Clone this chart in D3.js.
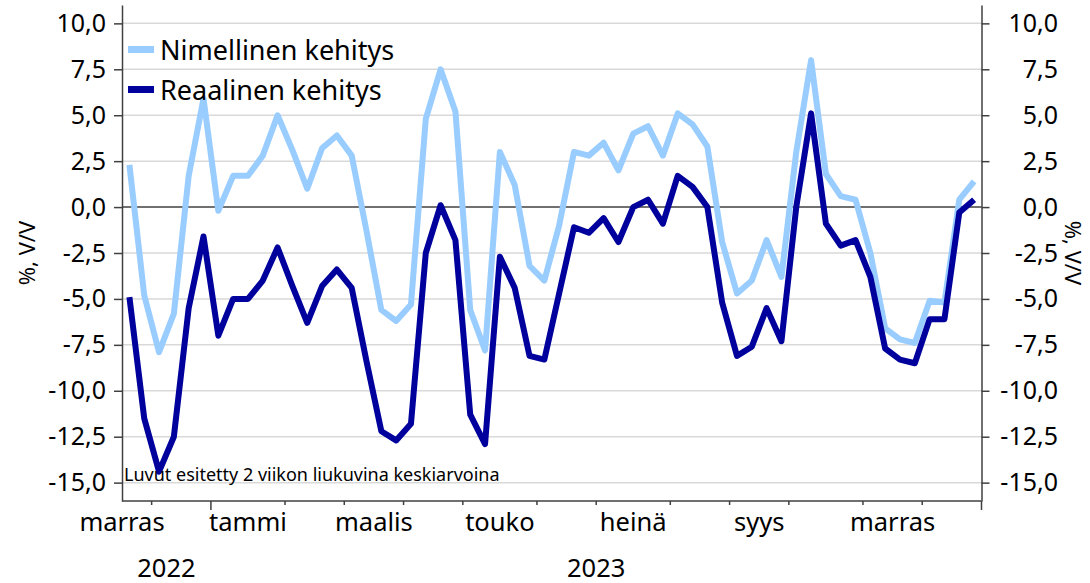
<!DOCTYPE html>
<html>
<head>
<meta charset="utf-8">
<script src="https://cdn.jsdelivr.net/npm/d3@7"></script>
<style>
  body { margin: 0; background: #fff; }
  svg text { font-family: "Noto Sans", sans-serif; fill: #000; }
</style>
</head>
<body>
<div id="chart"></div>
<script>
// weekly categories (Monday of each week)
const weeks = [
  "2022-11-21", "2022-11-28", "2022-12-05", "2022-12-12", "2022-12-19", "2022-12-26",
  "2023-01-02", "2023-01-09", "2023-01-16", "2023-01-23", "2023-01-30",
  "2023-02-06", "2023-02-13", "2023-02-20", "2023-02-27",
  "2023-03-06", "2023-03-13", "2023-03-20", "2023-03-27",
  "2023-04-03", "2023-04-10", "2023-04-17", "2023-04-24",
  "2023-05-01", "2023-05-08", "2023-05-15", "2023-05-22", "2023-05-29",
  "2023-06-05", "2023-06-12", "2023-06-19", "2023-06-26",
  "2023-07-03", "2023-07-10", "2023-07-17", "2023-07-24", "2023-07-31",
  "2023-08-07", "2023-08-14", "2023-08-21", "2023-08-28",
  "2023-09-04", "2023-09-11", "2023-09-18", "2023-09-25",
  "2023-10-02", "2023-10-09", "2023-10-16", "2023-10-23", "2023-10-30",
  "2023-11-06", "2023-11-13", "2023-11-20", "2023-11-27",
  "2023-12-04", "2023-12-11", "2023-12-18", "2023-12-25"
];

const nimellinen = [
  2.3, -4.8, -7.9, -5.8, 1.7, 5.9, -0.2, 1.7, 1.7, 2.8,
  5.0, 3.1, 1.0, 3.2, 3.9, 2.8, -1.3, -5.6, -6.2, -5.3,
  4.8, 7.5, 5.2, -5.6, -7.8, 3.0, 1.2, -3.2, -4.0, -1.0,
  3.0, 2.8, 3.5, 2.0, 4.0, 4.4, 2.8, 5.1, 4.5, 3.3,
  -1.9, -4.7, -4.0, -1.8, -3.8, 3.0, 8.0, 1.8, 0.6, 0.4,
  -2.5, -6.6, -7.2, -7.4, -5.1, -5.2, 0.4, 1.4
];

const reaalinen = [
  -4.9, -11.5, -14.4, -12.5, -5.5, -1.6, -7.0, -5.0, -5.0, -4.0,
  -2.2, -4.3, -6.3, -4.3, -3.4, -4.4, -8.4, -12.2, -12.7, -11.8,
  -2.5, 0.1, -1.8, -11.3, -12.9, -2.7, -4.4, -8.1, -8.3, -4.7,
  -1.1, -1.4, -0.6, -1.9, 0.0, 0.4, -0.9, 1.7, 1.1, 0.0,
  -5.2, -8.1, -7.6, -5.5, -7.3, 0.0, 5.1, -0.9, -2.1, -1.8,
  -3.8, -7.7, -8.3, -8.5, -6.1, -6.1, -0.3, 0.4
];

const yTicks = [-15, -12.5, -10, -7.5, -5, -2.5, 0, 2.5, 5, 7.5, 10];
const labelMonths = ["2022-11", "2023-01", "2023-03", "2023-05", "2023-07", "2023-09", "2023-11"];
const monthLabels = ["marras", "tammi", "maalis", "touko", "heinä", "syys", "marras"];
const years = ["2022", "2023"];
const seriesNames = ["Nimellinen kehitys", "Reaalinen kehitys"];
const colors = ["#99ccff", "#00009c"];

const W = 1090, H = 583;
const plot = {left: 122, right: 981.5, top: 5, bottom: 501};

const svg = d3.select("#chart").append("svg")
  .attr("width", W)
  .attr("height", H);

const fi = d3.formatLocale({decimal: ",", thousands: " ", grouping: [3], currency: ["", ""], minus: "-"});
const fmt = fi.format(".1f");

const x = d3.scaleBand().domain(weeks).range([plot.left, plot.right]).padding(0);
const bw = x.bandwidth();
const y = d3.scaleLinear().domain([-16, 11]).range([plot.bottom, plot.top]);

// gridlines
svg.append("g")
  .selectAll("line")
  .data(yTicks.filter(d => d !== 0))
  .join("line")
    .attr("x1", plot.left).attr("x2", plot.right)
    .attr("y1", d => y(d)).attr("y2", d => y(d))
    .attr("stroke", "#d9d9d9")
    .attr("stroke-width", 1.5);

// y axes
const yAxisL = d3.axisLeft(y).tickValues(yTicks).tickFormat(fmt).tickSize(8).tickPadding(8).tickSizeOuter(0);
const yAxisR = d3.axisRight(y).tickValues(yTicks).tickFormat(fmt).tickSize(8).tickPadding(8).tickSizeOuter(0);

const gL = svg.append("g").attr("transform", `translate(${plot.left},0)`).call(yAxisL);
const gR = svg.append("g").attr("transform", `translate(${plot.right},0)`).call(yAxisR);
[gL, gR].forEach(g => {
  g.select(".domain").attr("stroke", "#404040").attr("stroke-width", 1.5);
  g.selectAll(".tick line").attr("stroke", "#404040").attr("stroke-width", 1.5);
  g.selectAll(".tick text").attr("font-size", 25).attr("fill", "#000");
});
gR.selectAll(".tick text").attr("text-anchor", "end").attr("x", 1058 - plot.right);

// zero line
svg.append("line")
  .attr("x1", plot.left).attr("x2", plot.right)
  .attr("y1", y(0)).attr("y2", y(0))
  .attr("stroke", "#404040")
  .attr("stroke-width", 1.5);

// x axis line + month ticks
svg.append("line")
  .attr("x1", plot.left).attr("x2", plot.right)
  .attr("y1", plot.bottom).attr("y2", plot.bottom)
  .attr("stroke", "#404040")
  .attr("stroke-width", 1.5);

const monthStarts = weeks.filter((w, i) => i > 0 && w.slice(0, 7) !== weeks[i - 1].slice(0, 7));
const tickData = monthStarts.map(w => ({x: x(w), year: w.slice(5, 7) === "01"}))
  .concat([{x: plot.right, year: true}]);
svg.append("g")
  .selectAll("line")
  .data(tickData)
  .join("line")
    .attr("x1", d => d.x).attr("x2", d => d.x)
    .attr("y1", plot.bottom).attr("y2", d => plot.bottom + (d.year ? 9 : 4))
    .attr("stroke", "#404040")
    .attr("stroke-width", 1.5);

// month labels, centred on full months
const parseM = d3.timeParse("%Y-%m");
const monthCenter = m => {
  const start = parseM(m);
  const next = d3.timeMonth.offset(start, 1);
  const nextKey = d3.timeFormat("%Y-%m")(next);
  const n = d3.timeMonday.range(start, next).length;
  const first = weeks.find(w => w.slice(0, 7) === nextKey);
  const end = first ? x(first) : plot.right;
  return end - n * bw / 2;
};
svg.append("g")
  .selectAll("text")
  .data(labelMonths)
  .join("text")
    .attr("x", d => monthCenter(d))
    .attr("y", 531)
    .attr("text-anchor", "middle")
    .attr("font-size", 25.5)
    .text((d, i) => monthLabels[i]);

svg.append("g")
  .selectAll("text")
  .data(years)
  .join("text")
    .attr("x", d => {
      const ws = weeks.filter(w => w.startsWith(d));
      return (x(ws[0]) + x(ws[ws.length - 1]) + bw) / 2;
    })
    .attr("y", 577)
    .attr("text-anchor", "middle")
    .attr("font-size", 25.5)
    .text(d => d);

// lines
const line = d3.line()
  .x((d, i) => x(weeks[i]) + bw / 2)
  .y(d => y(d));

[nimellinen, reaalinen].forEach((s, k) => {
  svg.append("path")
    .datum(s)
    .attr("fill", "none")
    .attr("stroke", colors[k])
    .attr("stroke-width", 6)
    .attr("stroke-linejoin", "round")
    .attr("d", line);
});

// note
svg.append("text")
  .attr("x", 124)
  .attr("y", 481)
  .attr("font-size", 18)
  .text("Luvut esitetty 2 viikon liukuvina keskiarvoina");

// legend
const leg = svg.append("g");
seriesNames.forEach((name, k) => {
  const ly = 49.5 + k * 40;
  leg.append("line")
    .attr("x1", 128).attr("x2", 154)
    .attr("y1", ly).attr("y2", ly)
    .attr("stroke", colors[k])
    .attr("stroke-width", 7);
  leg.append("text")
    .attr("x", 160)
    .attr("y", ly + 10)
    .attr("font-size", 27)
    .text(name);
});

// axis titles
svg.append("text")
  .attr("transform", `translate(26,${(plot.top + plot.bottom) / 2}) rotate(-90)`)
  .attr("text-anchor", "middle")
  .attr("dominant-baseline", "central")
  .attr("font-size", 22)
  .text("%, V/V");

svg.append("text")
  .attr("transform", `translate(1074,${(plot.top + plot.bottom) / 2}) rotate(90)`)
  .attr("text-anchor", "middle")
  .attr("dominant-baseline", "central")
  .attr("font-size", 22)
  .text("%, V/V");
</script>
</body>
</html>
